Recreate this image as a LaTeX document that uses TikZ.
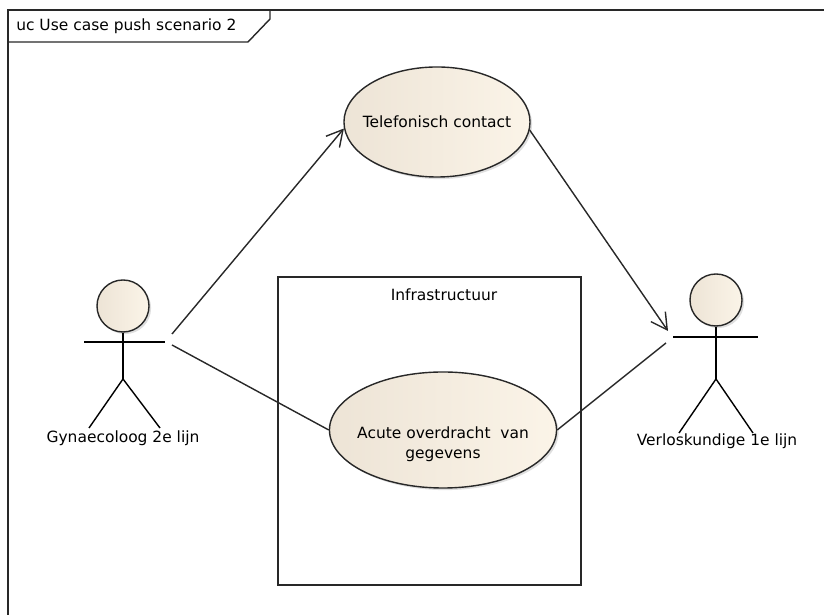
\documentclass[tikz,border=0pt]{standalone}
\usepackage{fontspec}
\setmainfont{DejaVu Sans}
\usetikzlibrary{shapes}
\usetikzlibrary{shapes.geometric}
\usetikzlibrary{positioning}
\usetikzlibrary{arrows.meta}
\usetikzlibrary{shadows}
\definecolor{ucleft}{RGB}{237,228,214}
\definecolor{ucright}{RGB}{251,244,232}
\definecolor{ucline}{RGB}{40,40,40}
\tikzset{
    usecase/.style = {ellipse, draw=ucline, line width=1pt, inner sep=0pt, align=center,
                      left color=ucleft, right color=ucright,
                      drop shadow={opacity=0.25, shadow xshift=1.5pt, shadow yshift=-1.5pt}},
    actorhead/.style = {circle, draw=ucline, line width=1pt, inner sep=0pt, minimum size=1.3cm,
                        left color=ucleft, right color=ucright,
                        drop shadow={opacity=0.25, shadow xshift=1.5pt, shadow yshift=-1.5pt}},
    limb/.style = {line width=1pt, black},
    assoc/.style = {line width=1pt, ucline},
    assocarr/.style = {-{Straight Barb[length=4mm,width=4.4mm]}, line width=1pt, ucline},
    boundary/.style = {draw=ucline, line width=1pt},
    uctext/.style = {font=\fontsize{11}{14}\selectfont, inner sep=0pt, align=center}
}

\begin{document}
\begin{tikzpicture}[x=0.025cm, y=-0.025cm]
  \useasboundingbox (0,0) rectangle (824,615);
  % frame and title tab
  \draw[boundary] (8,615) -- (8,10) -- (824,10);
  \draw[boundary] (8,42) -- (248,42) -- (270,19) -- (270,10);
  \node[uctext, anchor=west] (title) at (16,26) {uc Use case push scenario 2};

  % system boundary
  \draw[boundary] (278,277) rectangle (581,585);
  \node[uctext] (infra) at (444,295) {Infrastructuur};

  % use cases
  \node[usecase, minimum width=4.65cm, minimum height=2.75cm,
        label={[uctext]center:Telefonisch contact}] (tel) at (437,122) {};
  \node[usecase, minimum width=5.675cm, minimum height=2.9cm,
        label={[uctext, yshift=-0.35cm]center:Acute overdracht\ \ van\\gegevens}] (acute) at (443,430) {};

  % actor: Gynaecoloog
  \node[actorhead] (gynhead) at (123,306) {};
  \draw[limb] (gynhead.south) -- (123,379) coordinate (gynhip);
  \draw[limb] (84,342) -- (165,342);
  \draw[limb] (89,428) -- (gynhip) -- (160,428);
  \node[uctext, anchor=north] (gynlabel) at (123,430) {Gynaecoloog 2e lijn};
  \coordinate (gyntel) at (172,334);
  \coordinate (gynacu) at (172,345);

  % actor: Verloskundige
  \node[actorhead] (verhead) at (716,300) {};
  \draw[limb] (verhead.south) -- (716,379) coordinate (verhip);
  \draw[limb] (673,337) -- (758,337);
  \draw[limb] (679,433) -- (verhip) -- (753,433);
  \node[uctext, anchor=north] (verlabel) at (717,433) {Verloskundige 1e lijn};
  \coordinate (vertel) at (668,331);
  \coordinate (veracu) at (666,343);

  % associations
  \draw[assocarr] (gyntel) -- (tel.184);
  \draw[assocarr] (tel.-5) -- (vertel);
  \draw[assoc] (gynacu) -- (acute.west);
  \draw[assoc] (acute.east) -- (veracu);
\end{tikzpicture}
\end{document}
